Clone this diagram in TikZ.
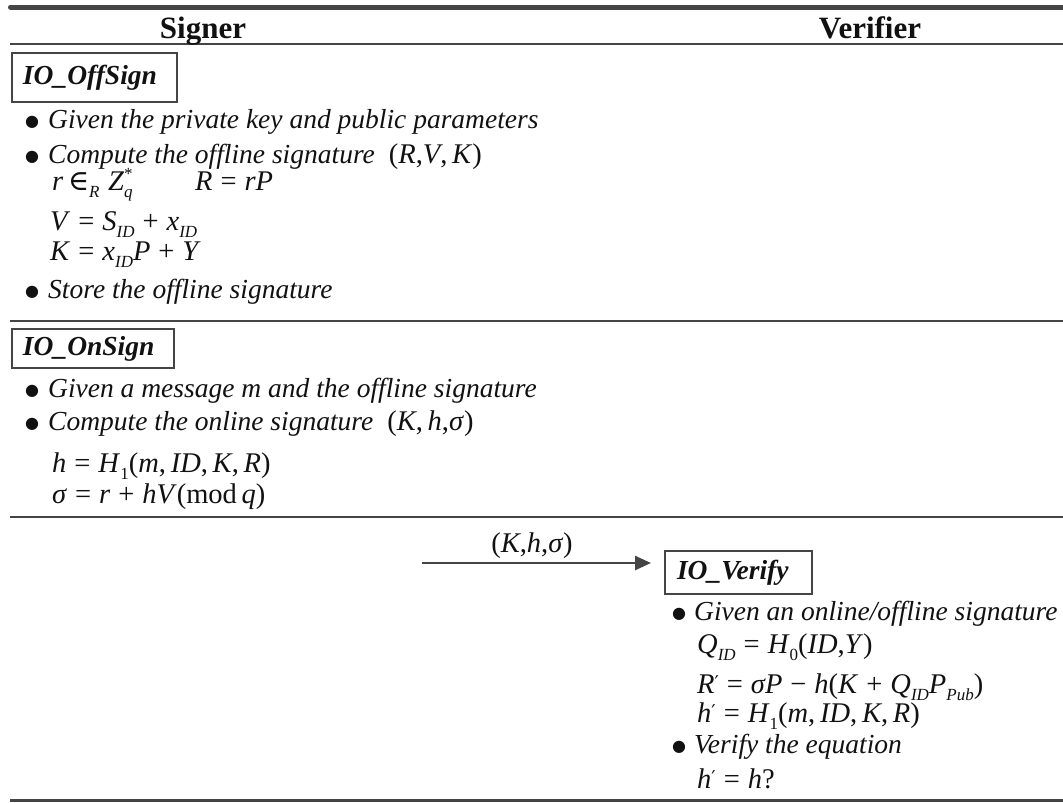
\documentclass[tikz,border=0pt]{standalone}
\usepackage{fontspec}
\setmainfont{Liberation Serif}
\newfontfamily\symf{DejaVu Serif}
\usetikzlibrary{arrows.meta}
\definecolor{rulegray}{HTML}{454545}
\definecolor{inkblack}{HTML}{111111}

% formula helpers built from the text font
\newcommand{\vi}[1]{\textit{#1}}
\newcommand{\lo}[1]{\raisebox{-0.28em}{\fontsize{17}{17}\selectfont\itshape #1}}
\newcommand{\lon}[1]{\raisebox{-0.28em}{\fontsize{17}{17}\selectfont #1}}
\newcommand{\hiast}[1]{\raisebox{0.36em}{\fontsize{17}{17}\selectfont #1}}
\newcommand{\ops}[1]{\hspace{0.28em}#1\hspace{0.28em}}
\newcommand{\prm}{\raisebox{0.12em}{\fontsize{19}{19}\selectfont\symf ′}}
\newcommand{\bul}[1]{\makebox[#1][l]{\raisebox{0.04em}{\fontsize{16}{16}\selectfont\symf ●}}}

\begin{document}
\begin{tikzpicture}[x=1pt,y=-1pt,
  txt/.style={anchor=base west, inner sep=0pt, text=inkblack,
    font=\fontsize{27.5}{33}\selectfont\itshape},
  eqn/.style={anchor=base west, inner sep=0pt, text=inkblack,
    font=\fontsize{28.5}{33}\selectfont},
  head/.style={anchor=base, inner sep=0pt, text=inkblack,
    font=\fontsize{31}{36}\selectfont\bfseries},
  phase/.style={draw=rulegray, line width=2pt, anchor=north west,
    inner ysep=0pt, inner xsep=11pt, align=left, text=inkblack,
    font=\fontsize{27.5}{33}\selectfont\bfseries\itshape},
  rulel/.style={draw=rulegray, line width=2.5pt},
  msg/.style={draw=rulegray, line width=2.5pt,
    -{Triangle[length=16pt,width=14pt]}}
]
\useasboundingbox (0,0) rectangle (1063,803);

% table rules
\draw[rulel, line width=5pt, line cap=round] (10.5,7) -- (1063,7);
\draw[rulel] (10,44) -- (1063,44);
\draw[rulel] (10,321) -- (1063,321);
\draw[rulel] (10,517) -- (1063,517);
\draw[rulel] (10,800.5) -- (1063,800.5);

% column headings
\node[head] (signer) at (203,38) {Signer};
\node[head] (verifier) at (870,38) {Verifier};

% offline signing
\node[phase, text width=143pt, minimum height=49pt] (offsign) at (11,52) {IO\_OffSign};
\node[txt] (off1) at (25,128) {\bul{23pt}Given the private key and public parameters};
\node[txt] (off2) at (25,163) {\bul{23pt}Compute the offline signature\hspace{14pt}{\fontsize{28.5}{33}\selectfont\upshape(\vi{R},\vi{V},\,\vi{K})}};
\node[eqn] (off3) at (52,190) {\vi{r}\,{\symf ∈}\lo{R}\hspace{0.3em}\vi{Z}\rlap{\hiast{*}}\lo{q}};
\node[eqn] (off4) at (195,190) {\vi{R}\ops{=}\vi{rP}};
\node[eqn] (off5) at (50,230) {\vi{V}\ops{=}\vi{S}\lo{ID}\ops{+}\vi{x}\lo{ID}};
\node[eqn] (off6) at (50,260) {\vi{K}\ops{=}\vi{x}\lo{ID}\vi{P}\ops{+}\vi{Y}};
\node[txt] (off7) at (25,298) {\bul{23pt}Store the offline signature};

% online signing
\node[phase, text width=140pt, minimum height=39pt] (onsign) at (11,328) {IO\_OnSign};
\node[txt] (on1) at (25,397) {\bul{23pt}Given a message m and the offline signature};
\node[txt] (on2) at (25,430) {\bul{23pt}Compute the online signature\hspace{14pt}{\fontsize{28.5}{33}\selectfont\upshape(\vi{K},\,\vi{h},\vi{σ})}};
\node[eqn] (on3) at (52,472) {\vi{h}\ops{=}\vi{H}\lon{1}(\vi{m},\,\vi{ID},\,\vi{K},\,\vi{R})};
\node[eqn] (on4) at (52,503) {\vi{σ}\ops{=}\vi{r}\ops{+}\vi{hV}(mod\,\vi{q})};

% transmission to the verifier
\node[phase, text width=123pt, minimum height=43pt, inner xsep=12pt] (verify) at (664,550) {IO\_Verify};
\coordinate (sendfrom) at (422,563);
\coordinate (sendto) at (651,563);
\draw[msg] (sendfrom) -- (sendto);
\node[eqn, anchor=base] (sent) at (532,552) {(\vi{K},\vi{h},\vi{σ})};

% verification
\node[txt] (ver1) at (672,620) {\bul{22pt}Given an online/offline signature};
\node[eqn] (ver2) at (697,653) {\vi{Q}\lo{ID}\ops{=}\vi{H}\lon{0}(\vi{ID},\vi{Y})};
\node[eqn] (ver3) at (697,693) {\vi{R}\prm\ops{=}\vi{σP}\ops{−}\vi{h}(\vi{K}\ops{+}\vi{Q}\lo{ID}\vi{P}\lo{Pub})};
\node[eqn] (ver4) at (697,722) {\vi{h}\prm\ops{=}\vi{H}\lon{1}(\vi{m},\,\vi{ID},\,\vi{K},\,\vi{R})};
\node[txt] (ver5) at (672,753) {\bul{22pt}Verify the equation};
\node[eqn] (ver6) at (697,788) {\vi{h}\prm\ops{=}\vi{h}?};
\end{tikzpicture}
\end{document}
